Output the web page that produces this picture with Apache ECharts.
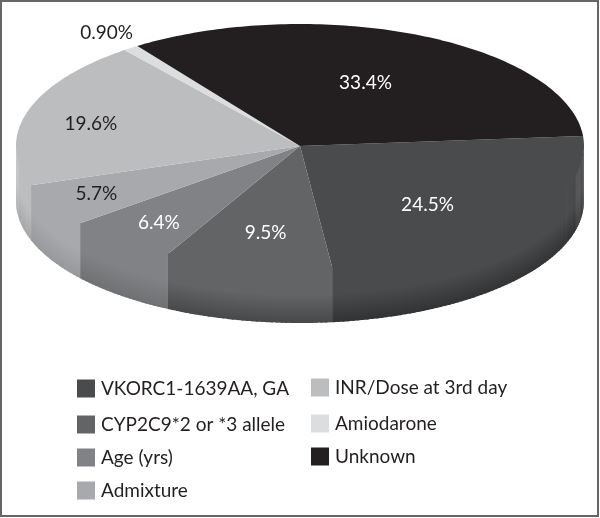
<!DOCTYPE html>
<html>
<head>
<meta charset="utf-8">
<style>
    html, body { margin: 0; padding: 0; background: #fff; }
    #chart { width: 600px; height: 518px; }
</style>
<script src="https://cdn.jsdelivr.net/npm/echarts@6/dist/echarts.min.js"></script>
</head>
<body>
<div id="chart"></div>
<script>
const sliceNames = ['VKORC1-1639AA, GA', 'CYP2C9*2 or *3 allele', 'Age (yrs)', 'Admixture',
    'INR/Dose at 3rd day', 'Amiodarone', 'Unknown'];
const sliceValues = [24.5, 9.5, 6.4, 5.7, 19.6, 0.9, 33.4];
const sliceLabels = ['24.5%', '9.5%', '6.4%', '5.7%', '19.6%', '0.90%', '33.4%'];

const sliceColors = ['#4a4b4d', '#636466', '#808285', '#a7a9ac', '#bcbdbf', '#dcddde', '#231f20'];
const labelColors = ['#fff', '#fff', '#fff', '#231f20', '#231f20', '#231f20', '#fff'];
// how dark the wall gets at its bottom edge, per slice
const wallDarkening = [0.66, 0.72, 0.86, 0.9, 0.88, 1, 1];
// label position as a fraction of the ellipse radii, along the slice's middle angle
const labelFractions = [[0.581, 0.762], [0.66, 0.728], [0.786, 0.818], [0.82, 0.816],
    [0.768, 0.633], [1.143, 1.15], [0.542, 0.571]];

const FONT = 'Lato, "Open Sans", sans-serif';
const CENTER_X = 300, CENTER_Y = 146, RADIUS_X = 284, RADIUS_Y = 122, DEPTH = 55;
const START_ANGLE = 4.7;

const total = sliceValues.reduce((sum, v) => sum + v, 0);

function rimPoint(angle, drop) {
    const rad = angle * Math.PI / 180;
    return [CENTER_X + RADIUS_X * Math.cos(rad), CENTER_Y - RADIUS_Y * Math.sin(rad) + drop];
}

function shade(hex, factor) {
    const n = parseInt(hex.slice(1), 16);
    const part = shift => Math.round(((n >> shift) & 255) * factor);
    return 'rgb(' + part(16) + ',' + part(8) + ',' + part(0) + ')';
}

// the wall gets darker close to the right end of the rim
function edgeShade(angle) {
    if (angle < -20) return 1;
    const t = 1 + angle / 20;
    return 1 - 0.25 * t * t;
}

function buildWall(from, to, color, darkening) {
    // the wall only shows on the front half of the rim
    const end = Math.max(to, -180);
    const begin = Math.min(from, 0);
    const strips = [];
    for (let a = begin; a > end; a -= 1) {
        const b = Math.max(a - 1.4, end);
        const factor = edgeShade(a);
        strips.push({
            type: 'polygon',
            shape: { points: [rimPoint(a, -1), rimPoint(b, -1), rimPoint(b, DEPTH), rimPoint(a, DEPTH)] },
            style: {
                fill: new echarts.graphic.LinearGradient(0, 0, 0, 1, [
                    { offset: 0, color: shade(color, factor) },
                    { offset: 0.5, color: shade(color, factor) },
                    { offset: 1, color: shade(color, darkening * factor) }
                ])
            }
        });
    }
    return strips;
}

function renderSlice(params, api) {
    const index = params.seriesIndex;
    const before = sliceValues.slice(0, index).reduce((sum, v) => sum + v, 0);
    const from = START_ANGLE - before / total * 360;
    const to = from - api.value(0) / total * 360;
    const color = sliceColors[index];

    const points = [[CENTER_X, CENTER_Y]];
    for (let a = from; a > to; a -= 1) {
        points.push(rimPoint(a, 0));
    }
    points.push(rimPoint(to, 0));

    const mid = (from + to) / 2 * Math.PI / 180;
    const fraction = labelFractions[index];

    return {
        type: 'group',
        children: buildWall(from, to, color, wallDarkening[index]).concat([
            { type: 'polygon', shape: { points: points }, style: { fill: color } },
            {
                type: 'text',
                z2: 10,
                x: CENTER_X + RADIUS_X * fraction[0] * Math.cos(mid),
                y: CENTER_Y - RADIUS_Y * fraction[1] * Math.sin(mid),
                style: {
                    text: sliceLabels[index],
                    fill: labelColors[index],
                    font: '19px ' + FONT,
                    align: 'center',
                    verticalAlign: 'middle'
                }
            }
        ])
    };
}

function legendBlock(names, left, top) {
    return {
        data: names,
        left: left,
        top: top,
        orient: 'vertical',
        icon: 'rect',
        itemWidth: 18,
        itemHeight: 18,
        itemGap: 14,
        padding: 0,
        selectedMode: false,
        textStyle: { fontFamily: FONT, fontSize: 19, color: '#231f20', padding: [0, 0, 0, 1] }
    };
}

const chart = echarts.init(document.getElementById('chart'));
chart.setOption({
    animation: false,
    backgroundColor: '#fff',
    legend: [
        legendBlock(sliceNames.slice(0, 1), 77, 379),
        legendBlock(sliceNames.slice(1, 4), 77, 415),
        legendBlock(sliceNames.slice(4, 5), 311, 378),
        legendBlock(sliceNames.slice(5, 7), 311, 414)
    ],
    graphic: [{
        type: 'rect',
        shape: { x: 1, y: 1, width: 597, height: 515 },
        style: { fill: 'none', stroke: '#666', lineWidth: 2 },
        silent: true
    }],
    series: sliceNames.map((name, i) => ({
        name: name,
        type: 'custom',
        coordinateSystem: 'none',
        renderItem: renderSlice,
        itemStyle: { color: sliceColors[i] },
        data: [sliceValues[i]]
    }))
});
</script>
</body>
</html>
